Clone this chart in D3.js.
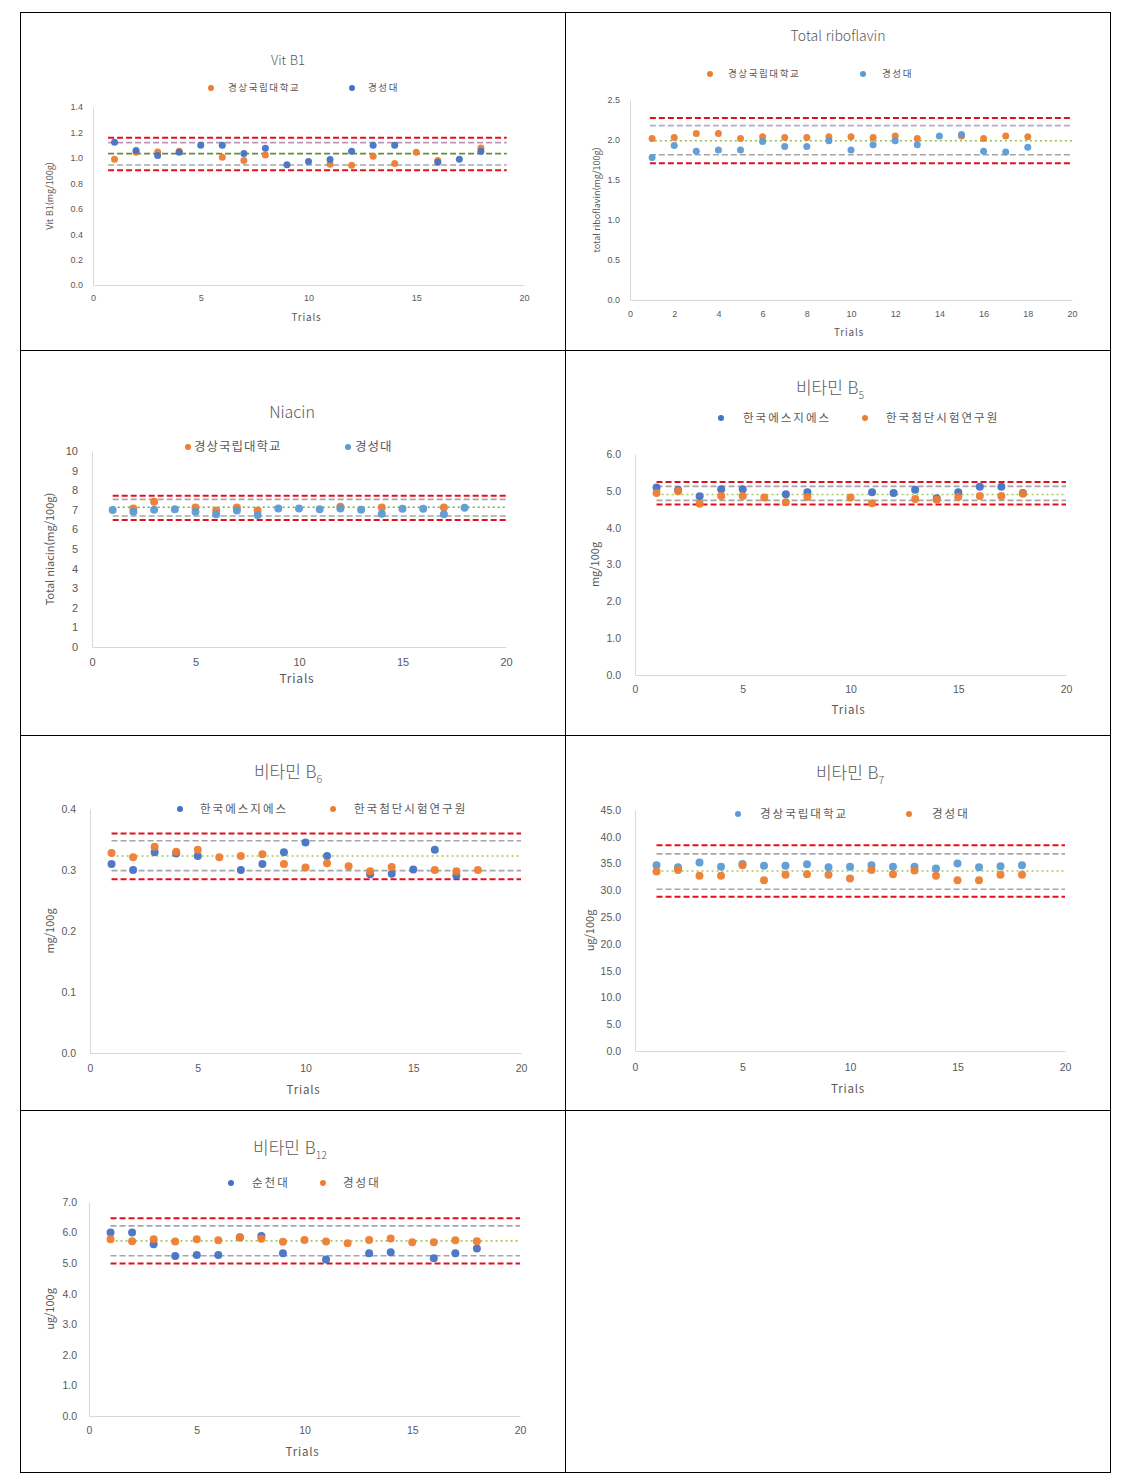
<!DOCTYPE html>
<html lang="ko">
<head>
<meta charset="UTF-8">
<title>Vitamin B trials</title>
<script src="https://d3js.org/d3.v7.min.js"></script>
<style>
  body { margin: 0; background: #fff; }
  svg { font-family: "Noto Sans CJK KR", "Noto Sans", sans-serif; }
  .tick text { fill: #595959; }
  .domain { stroke: #d9d9d9; }
</style>
</head>
<body>
<svg id="canvas" width="1121" height="1480"></svg>
<script>
// ---- data ----
const trials = [1, 2, 3, 4, 5, 6, 7, 8, 9, 10, 11, 12, 13, 14, 15, 16, 17, 18];

const b1Gnu   = [0.99, 1.045, 1.047, 1.052, null, 1.005, 0.979, 1.023, null, null, 0.95, 0.942, 1.013, 0.955, 1.045, 0.98, null, 1.078];
const b1Ksu   = [1.123, 1.058, 1.018, 1.045, 1.10, 1.10, 1.034, 1.076, 0.945, 0.971, 0.987, 1.052, 1.10, 1.10, null, 0.966, 0.99, 1.052];
const b1Refs  = [0.902, 0.944, 1.033, 1.12, 1.158];
const b1Ticks = [0, 0.2, 0.4, 0.6, 0.8, 1.0, 1.2, 1.4];

const b2Gnu   = [2.02, 2.03, 2.08, 2.08, 2.02, 2.04, 2.03, 2.03, 2.04, 2.04, 2.03, 2.05, 2.02, null, 2.05, 2.02, 2.05, 2.04];
const b2Ksu   = [1.78, 1.93, 1.86, 1.875, 1.875, 1.98, 1.92, 1.92, 1.99, 1.875, 1.94, 1.99, 1.94, 2.05, 2.07, 1.86, 1.85, 1.91];
const b2Refs  = [1.71, 1.816, 1.99, 2.18, 2.275];
const b2Ticks = [0, 0.5, 1.0, 1.5, 2.0, 2.5];

const b3Gnu   = [null, 7.07, 7.41, null, 7.12, 6.97, 7.12, 6.97, null, null, null, 7.15, null, 7.12, null, null, 7.12, null];
const b3Ksu   = [6.99, 6.9, 7.0, 7.03, 6.9, 6.77, 6.97, 6.73, 7.06, 7.07, 7.03, 7.07, 7.0, 6.8, 7.05, 7.05, 6.77, 7.11];
const b3Refs  = [6.48, 6.68, 7.13, 7.53, 7.72];
const b3Ticks = [0, 1, 2, 3, 4, 5, 6, 7, 8, 9, 10];

const b5Sgs   = [5.09, 5.02, 4.85, 5.04, 5.04, null, 4.91, 4.96, null, null, 4.96, 4.94, 5.03, 4.80, 4.96, 5.11, 5.11, 4.94];
const b5Kate  = [4.94, 4.99, 4.65, 4.86, 4.86, 4.82, 4.69, 4.83, null, 4.82, 4.66, null, 4.78, 4.76, 4.83, 4.86, 4.86, 4.92];
const b5Refs  = [4.63, 4.74, 4.90, 5.12, 5.24];
const b5Ticks = [0, 1, 2, 3, 4, 5, 6];

const b6Sgs   = [0.310, 0.300, 0.329, 0.327, 0.323, null, 0.300, 0.310, 0.329, 0.345, 0.323, null, 0.293, 0.294, 0.301, 0.333, 0.291, null];
const b6Kate  = [0.328, 0.321, 0.338, 0.330, 0.333, 0.321, 0.323, 0.326, 0.310, 0.304, 0.311, 0.306, 0.298, 0.305, null, 0.300, 0.298, 0.300];
const b6Refs  = [0.285, 0.299, 0.323, 0.348, 0.360];
const b6Ticks = [0, 0.1, 0.2, 0.3, 0.4];

const b7Gnu   = [34.7, 34.3, 35.2, 34.4, 34.9, 34.6, 34.6, 34.85, 34.3, 34.4, 34.7, 34.4, 34.4, 34.1, 35.0, 34.3, 34.5, 34.7];
const b7Ksu   = [33.5, 33.8, 32.7, 32.7, 34.7, 31.9, 32.9, 33.0, 32.9, 32.2, 33.8, 33.0, 33.7, 32.7, 31.9, 31.9, 32.9, 32.9];
const b7Refs  = [28.8, 30.2, 33.6, 36.8, 38.4];
const b7Ticks = [0, 5, 10, 15, 20, 25, 30, 35, 40, 45];

const b12Scnu  = [6.00, 6.00, 5.62, 5.23, 5.27, 5.27, 5.85, 5.89, 5.32, null, 5.12, null, 5.32, 5.36, null, 5.16, 5.32, 5.48];
const b12Ksu   = [5.78, 5.72, 5.78, 5.71, 5.78, 5.75, 5.84, 5.80, 5.70, 5.76, 5.71, 5.65, 5.76, 5.81, 5.68, 5.68, 5.75, 5.72];
const b12Refs  = [4.99, 5.24, 5.73, 6.22, 6.47];
const b12Ticks = [0, 1, 2, 3, 4, 5, 6, 7];

const ORANGE = "#ED7D31", DBLUE = "#4472C4", LBLUE = "#5B9BD5";

// ---- panel layout ----
const panels = [
  { title: "Vit B1", sub: "", tSize: 13, tXY: [288, 60],
    series: [{ name: "경상국립대학교", v: b1Gnu, c: ORANGE }, { name: "경성대", v: b1Ksu, c: DBLUE }],
    leg: { y: 88, dots: [211, 352], texts: [228, 368], size: 9.5, ls: 1.6 },
    refs: b1Refs, span: [0.7, 19.2], green: "dash", greenC: "#5e8f3a", upperC: "#b497bd",
    yTicks: b1Ticks, fmt: ".1f", xStep: 5, x0: 93, x1: 524, yTop: 107, yBot: 285,
    tick: 9, yPad: 10, xLab: 299, yLabel: "Vit B1(mg/100g)", yLX: 50, yLS: 9, trials: 317, trialsS: 10, r: 3.5 },
  { title: "Total riboflavin", sub: "", tSize: 14, tXY: [838, 36],
    series: [{ name: "경상국립대학교", v: b2Gnu, c: ORANGE }, { name: "경성대", v: b2Ksu, c: LBLUE }],
    leg: { y: 74, dots: [710, 863], texts: [728, 882], size: 9.5, ls: 1.6 },
    refs: b2Refs, span: [0.9, 20], green: "dot", greenC: "#92c04a", upperC: "#b6aac6",
    yTicks: b2Ticks, fmt: ".1f", xStep: 2, x0: 630, x1: 1072, yTop: 100, yBot: 300,
    tick: 9, yPad: 10, xLab: 315, yLabel: "total riboflavin(mg/100g)", yLX: 597, yLS: 9, trials: 332, trialsS: 10, r: 3.5 },
  { title: "Niacin", sub: "", tSize: 16, tXY: [292, 412],
    series: [{ name: "경상국립대학교", v: b3Gnu, c: ORANGE }, { name: "경성대", v: b3Ksu, c: LBLUE }],
    leg: { y: 447, dots: [188, 348], texts: [194, 355], size: 12.5, ls: 1 },
    refs: b3Refs, span: [1, 20], green: "dot", greenC: "#70AD47", upperC: "#a6a6a6",
    yTicks: b3Ticks, fmt: "d", xStep: 5, x0: 92, x1: 506, yTop: 451, yBot: 647,
    tick: 11, yPad: 14, xLab: 663, yLabel: "Total niacin(mg/100g)", yLX: 50, yLS: 11, trials: 679, trialsS: 12, r: 4 },
  { title: "비타민 B", sub: "5", tSize: 17, tXY: [830, 388],
    series: [{ name: "한국에스지에스", v: b5Sgs, c: DBLUE }, { name: "한국첨단시험연구원", v: b5Kate, c: ORANGE }],
    leg: { y: 418, dots: [721, 865], texts: [743, 886], size: 11.5, ls: 2 },
    refs: b5Refs, span: [1, 20], green: "dot", greenC: "#a8c85a", upperC: "#a6a6a6",
    yTicks: b5Ticks, fmt: ".1f", xStep: 5, x0: 635, x1: 1066, yTop: 454, yBot: 675,
    tick: 10.5, yPad: 14, xLab: 690, yLabel: "mg/100g", yLX: 595, yLS: 11, trials: 710, trialsS: 11.5, r: 4 },
  { title: "비타민 B", sub: "6", tSize: 17, tXY: [288, 772],
    series: [{ name: "한국에스지에스", v: b6Sgs, c: DBLUE }, { name: "한국첨단시험연구원", v: b6Kate, c: ORANGE }],
    leg: { y: 809, dots: [180, 333], texts: [200, 354], size: 11.5, ls: 2 },
    refs: b6Refs, span: [1, 20], green: "dot", greenC: "#a8c85a", upperC: "#a6a6a6",
    yTicks: b6Ticks, fmt: ".1f", xStep: 5, x0: 90, x1: 521, yTop: 809, yBot: 1053,
    tick: 10.5, yPad: 14, xLab: 1069, yLabel: "mg/100g", yLX: 50, yLS: 11, trials: 1090, trialsS: 11.5, r: 4 },
  { title: "비타민 B", sub: "7", tSize: 17, tXY: [850, 773],
    series: [{ name: "경상국립대학교", v: b7Gnu, c: LBLUE }, { name: "경성대", v: b7Ksu, c: ORANGE }],
    leg: { y: 814, dots: [738, 909], texts: [760, 932], size: 11.5, ls: 2 },
    refs: b7Refs, span: [1, 20], green: "dot", greenC: "#a8c85a", upperC: "#a6a6a6",
    yTicks: b7Ticks, fmt: ".1f", xStep: 5, x0: 635, x1: 1065, yTop: 810, yBot: 1051,
    tick: 10.5, yPad: 14, xLab: 1068, yLabel: "ug/100g", yLX: 590, yLS: 11, trials: 1089, trialsS: 11.5, r: 4 },
  { title: "비타민 B", sub: "12", tSize: 17, tXY: [290, 1148],
    series: [{ name: "순천대", v: b12Scnu, c: DBLUE }, { name: "경성대", v: b12Ksu, c: ORANGE }],
    leg: { y: 1183, dots: [231, 323], texts: [252, 343], size: 11.5, ls: 2 },
    refs: b12Refs, span: [1, 20], green: "dot", greenC: "#a8c85a", upperC: "#a6a6a6",
    yTicks: b12Ticks, fmt: ".1f", xStep: 5, x0: 89, x1: 520, yTop: 1202, yBot: 1416,
    tick: 10.5, yPad: 12, xLab: 1431, yLabel: "ug/100g", yLX: 50, yLS: 11, trials: 1452, trialsS: 11.5, r: 4 }
];

const svg = d3.select("#canvas");

// table frame
const frame = svg.append("g").attr("stroke", "#000").attr("stroke-width", 1).attr("fill", "none");
frame.append("rect").attr("x", 20.5).attr("y", 12.5).attr("width", 1090).attr("height", 1460);
frame.append("line").attr("x1", 565.5).attr("x2", 565.5).attr("y1", 12).attr("y2", 1473);
[350.5, 735.5, 1110.5].forEach(y => frame.append("line").attr("x1", 20).attr("x2", 1111).attr("y1", y).attr("y2", y));

panels.forEach(p => {
  const g = svg.append("g");
  const yMax = p.yTicks[p.yTicks.length - 1];
  const x = d3.scaleLinear().domain([0, 20]).range([p.x0, p.x1]);
  const y = d3.scaleLinear().domain([0, yMax]).range([p.yBot, p.yTop]);

  // title
  const t = g.append("text").attr("x", p.tXY[0]).attr("y", p.tXY[1]).attr("dy", "0.35em")
    .attr("text-anchor", "middle").attr("fill", "#595959").attr("font-size", p.tSize)
    .attr("font-weight", 300).text(p.title);
  if (p.sub) t.append("tspan").attr("font-size", p.tSize * 0.62).attr("dy", "0.45em").text(p.sub);

  // legend
  p.series.forEach((s, i) => {
    g.append("circle").attr("cx", p.leg.dots[i]).attr("cy", p.leg.y).attr("r", 3).attr("fill", s.c);
    g.append("text").attr("x", p.leg.texts[i]).attr("y", p.leg.y).attr("dy", "0.35em")
      .attr("font-size", p.leg.size).attr("letter-spacing", p.leg.ls + "px")
      .attr("fill", "#595959").text(s.name);
  });

  // axes
  const ya = g.append("g").attr("transform", `translate(${p.x0},0)`)
    .call(d3.axisLeft(y).tickValues(p.yTicks).tickFormat(d3.format(p.fmt))
      .tickSizeInner(0).tickSizeOuter(0).tickPadding(p.yPad));
  ya.selectAll("text").attr("font-size", p.tick).attr("font-family", null);
  ya.select(".domain").attr("stroke", "#d9d9d9");

  const xa = g.append("g").attr("transform", `translate(0,${p.yBot})`)
    .call(d3.axisBottom(x).tickValues(d3.range(0, 21, p.xStep)).tickFormat(d3.format("d"))
      .tickSizeInner(0).tickSizeOuter(0).tickPadding(p.xLab - p.yBot - p.tick * 0.45));
  xa.selectAll("text").attr("font-size", p.tick).attr("font-family", null);
  xa.select(".domain").attr("stroke", "#d9d9d9");

  // axis titles
  g.append("text").attr("x", (p.x0 + p.x1) / 2 - 2).attr("y", p.trials).attr("dy", "0.35em")
    .attr("text-anchor", "middle").attr("font-size", p.trialsS).attr("fill", "#595959")
    .attr("letter-spacing", "0.8px").text("Trials");
  g.append("text").attr("transform", `translate(${p.yLX},${(p.yTop + p.yBot) / 2}) rotate(-90)`)
    .attr("dy", "0.35em").attr("text-anchor", "middle").attr("font-size", p.yLS)
    .attr("fill", "#595959").text(p.yLabel);

  // reference lines: red, gray, green, gray, red
  const styles = [
    { c: "#e3101c", w: 2, d: "6,3" },
    { c: "#a6a6a6", w: 1.6, d: "6,3" },
    p.green === "dash" ? { c: p.greenC, w: 1.8, d: "6,3" } : { c: p.greenC, w: 1.6, d: "2,3" },
    { c: p.upperC, w: 1.6, d: "6,3" },
    { c: "#e3101c", w: 2, d: "6,3" }
  ];
  g.selectAll("line.ref").data(p.refs).join("line").attr("class", "ref")
    .attr("x1", x(p.span[0])).attr("x2", x(p.span[1]))
    .attr("y1", d => y(d)).attr("y2", d => y(d))
    .attr("stroke", (d, i) => styles[i].c).attr("stroke-width", (d, i) => styles[i].w)
    .attr("stroke-dasharray", (d, i) => styles[i].d);

  // points, second series on top
  p.series.forEach(s => {
    const pts = trials.map((t, i) => ({ t, v: s.v[i] })).filter(d => d.v != null);
    g.append("g").selectAll("circle").data(pts).join("circle")
      .attr("cx", d => x(d.t)).attr("cy", d => y(d.v)).attr("r", p.r)
      .attr("fill", s.c).attr("fill-opacity", 0.95);
  });
});
</script>
</body>
</html>
